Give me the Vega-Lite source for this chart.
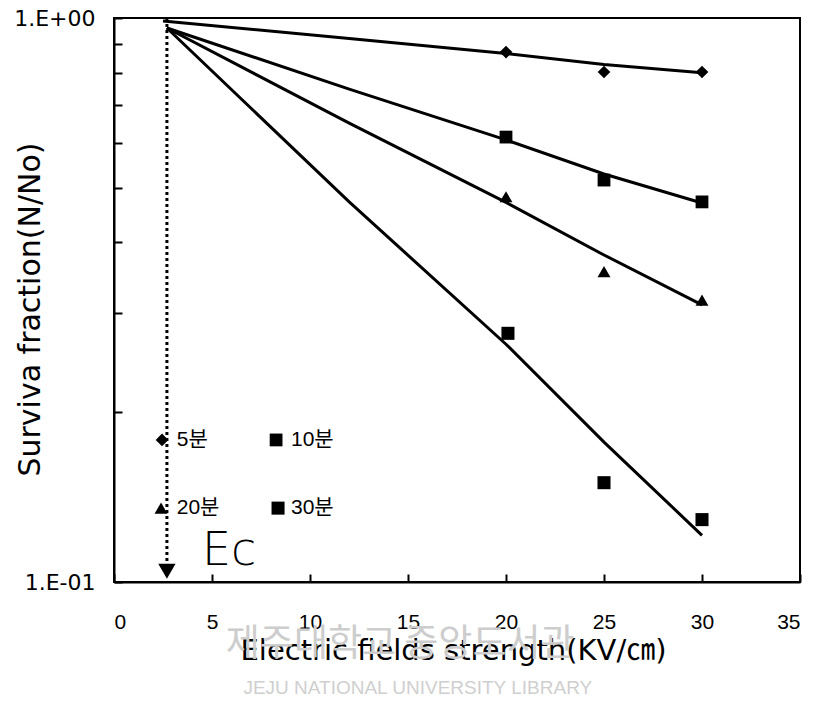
{
  "$schema": "https://vega.github.io/schema/vega-lite/v6.json",
  "width": 686,
  "height": 564,
  "autosize": "none",
  "padding": {"left": 114, "top": 18, "right": 22, "bottom": 126},
  "background": "white",
  "config": {
    "view": {"stroke": "black", "strokeWidth": 2},
    "font": "Liberation Sans",
    "axis": {
      "domainColor": "black", "domainWidth": 2, "tickColor": "black", "tickWidth": 2,
      "labelColor": "black", "titleColor": "black", "grid": false,
      "titleFont": "DejaVu Sans, Noto Sans CJK KR",
      "titleFontWeight": "normal"
    }
  },
  "datasets": {
    "lines": [
      {"series": "5분", "x": 2.5, "y": 0.988}, {"series": "5분", "x": 12, "y": 0.92}, {"series": "5분", "x": 20, "y": 0.865}, {"series": "5분", "x": 25, "y": 0.827}, {"series": "5분", "x": 30, "y": 0.80},
      {"series": "10분", "x": 2.7, "y": 0.96}, {"series": "10분", "x": 12, "y": 0.748}, {"series": "10분", "x": 20, "y": 0.608}, {"series": "10분", "x": 25, "y": 0.529}, {"series": "10분", "x": 30, "y": 0.47},
      {"series": "20분", "x": 2.7, "y": 0.96}, {"series": "20분", "x": 12, "y": 0.651}, {"series": "20분", "x": 20, "y": 0.471}, {"series": "20분", "x": 25, "y": 0.380}, {"series": "20분", "x": 30, "y": 0.31},
      {"series": "30분", "x": 2.7, "y": 0.96}, {"series": "30분", "x": 12, "y": 0.472}, {"series": "30분", "x": 20, "y": 0.264}, {"series": "30분", "x": 25, "y": 0.177}, {"series": "30분", "x": 30, "y": 0.121}
    ],
    "pts": [
      {"series": "5분", "x": 20, "y": 0.870}, {"series": "5분", "x": 25, "y": 0.802}, {"series": "5분", "x": 30, "y": 0.802},
      {"series": "10분", "x": 20, "y": 0.615}, {"series": "10분", "x": 25, "y": 0.516}, {"series": "10분", "x": 30, "y": 0.472},
      {"series": "20분", "x": 20, "y": 0.482}, {"series": "20분", "x": 25, "y": 0.355}, {"series": "20분", "x": 30, "y": 0.316},
      {"series": "30분", "x": 20.1, "y": 0.276}, {"series": "30분", "x": 25, "y": 0.150}, {"series": "30분", "x": 30, "y": 0.129}
    ],
    "keys": [
      {"series": "5분", "x": 2.45, "y": 0.1786},
      {"series": "10분", "x": 8.27, "y": 0.1786},
      {"series": "20분", "x": 2.4, "y": 0.1352},
      {"series": "30분", "x": 8.37, "y": 0.1352}
    ],
    "keylabels": [
      {"label": "5분", "x": 3.2, "y": 0.1786},
      {"label": "10분", "x": 9.03, "y": 0.1786},
      {"label": "20분", "x": 3.2, "y": 0.1352},
      {"label": "30분", "x": 9.03, "y": 0.1352}
    ],
    "ec": [{"x": 2.7, "y": 1.0, "y2": 0.108, "ay": 0.1045, "tx": 4.49, "ty": 0.1072, "label": "Ec"}],
    "mark": [
      {"label": "제주대학교 중앙도서관", "x": 14.6, "y": 0.0772},
      {"label": "JEJU NATIONAL UNIVERSITY  LIBRARY", "x": 15.5, "y": 0.0649}
    ]
  },
  "layer": [
    {
      "data": {"name": "mark"},
      "transform": [{"filter": "datum.x < 15"}],
      "mark": {"type": "text", "font": "Noto Sans CJK KR", "fontSize": 37, "color": "#cdcdcd", "align": "center", "baseline": "middle"},
      "encoding": {
        "x": {"field": "x", "type": "quantitative"},
        "y": {"field": "y", "type": "quantitative"},
        "text": {"field": "label"}
      }
    },
    {
      "data": {"name": "mark"},
      "transform": [{"filter": "datum.x > 15"}],
      "mark": {"type": "text", "font": "Liberation Sans", "fontSize": 19, "color": "#cfcfcf", "align": "center", "baseline": "middle"},
      "encoding": {
        "x": {"field": "x", "type": "quantitative"},
        "y": {"field": "y", "type": "quantitative"},
        "text": {"field": "label"}
      }
    },
    {
      "data": {"name": "lines"},
      "mark": {"type": "line", "color": "black", "strokeWidth": 3, "clip": false},
      "encoding": {
        "x": {
          "field": "x", "type": "quantitative",
          "scale": {"domain": [0, 35], "nice": false},
          "axis": {
            "values": [0, 5, 10, 15, 20, 25, 30, 35],
            "tickSize": -8, "labelPadding": 37, "labelFontSize": 21, "labelFont": "Liberation Sans",
            "title": "Electric fields strength(KV/㎝)", "titleFontSize": 29,
            "titleX": 339, "titleY": 77, "titleAlign": "center", "titleBaseline": "alphabetic"
          }
        },
        "y": {
          "field": "y", "type": "quantitative",
          "scale": {"type": "log", "domain": [0.1, 1], "nice": false},
          "axis": {
            "values": [0.1, 0.2, 0.3, 0.4, 0.5, 0.6, 0.7, 0.8, 0.9, 1],
            "labelExpr": "abs(datum.value-1)<1e-9 ? '1.E+00' : (abs(datum.value-0.1)<1e-9 ? '1.E-01' : '')",
            "tickSize": -8, "labelPadding": 27, "labelFontSize": 22, "labelFont": "DejaVu Sans",
            "title": "Surviva fraction(N/No)", "titleFontSize": 30,
            "titleX": -84, "titleY": 291, "titleAngle": -90, "titleAlign": "center", "titleBaseline": "middle"
          }
        },
        "detail": {"field": "series"}
      }
    },
    {
      "data": {"name": "ec"},
      "mark": {"type": "rule", "color": "black", "strokeWidth": 3, "strokeDash": [3, 3]},
      "encoding": {
        "x": {"field": "x", "type": "quantitative"},
        "y": {"field": "y", "type": "quantitative"},
        "y2": {"field": "y2"}
      }
    },
    {
      "data": {"name": "ec"},
      "mark": {"type": "point", "shape": "triangle-down", "filled": true, "color": "black", "size": 300, "opacity": 1},
      "encoding": {
        "x": {"field": "x", "type": "quantitative"},
        "y": {"field": "ay", "type": "quantitative"}
      }
    },
    {
      "data": {"name": "ec"},
      "mark": {"type": "text", "font": "DejaVu Sans", "fontWeight": 200, "fontSize": 46, "color": "black", "align": "left", "baseline": "alphabetic"},
      "encoding": {
        "x": {"field": "tx", "type": "quantitative"},
        "y": {"field": "ty", "type": "quantitative"},
        "text": {"field": "label"}
      }
    },
    {
      "data": {"name": "pts"},
      "mark": {"type": "point", "filled": true, "color": "black", "opacity": 1},
      "encoding": {
        "x": {"field": "x", "type": "quantitative"},
        "y": {"field": "y", "type": "quantitative"},
        "shape": {"field": "series", "type": "nominal", "scale": {"domain": ["5분", "10분", "20분", "30분"], "range": ["diamond", "square", "triangle-up", "square"]}, "legend": null},
        "size": {"field": "series", "type": "nominal", "scale": {"domain": ["5분", "10분", "20분", "30분"], "range": [160, 170, 190, 420]}, "legend": null}
      }
    },
    {
      "data": {"name": "keys"},
      "mark": {"type": "point", "filled": true, "color": "black", "opacity": 1},
      "encoding": {
        "x": {"field": "x", "type": "quantitative"},
        "y": {"field": "y", "type": "quantitative"},
        "shape": {"field": "series", "type": "nominal", "legend": null},
        "size": {"field": "series", "type": "nominal", "legend": null}
      }
    },
    {
      "data": {"name": "keylabels"},
      "mark": {"type": "text", "font": "Liberation Sans, Noto Sans CJK KR", "fontSize": 21, "color": "black", "align": "left", "baseline": "middle"},
      "encoding": {
        "x": {"field": "x", "type": "quantitative"},
        "y": {"field": "y", "type": "quantitative"},
        "text": {"field": "label"}
      }
    }
  ]
}
